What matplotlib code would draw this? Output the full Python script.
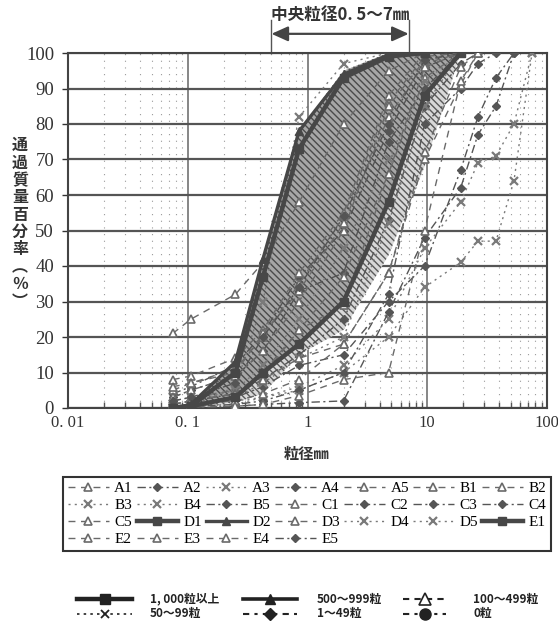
import matplotlib
matplotlib.use('Agg')
import matplotlib.pyplot as plt
from matplotlib.lines import Line2D
from matplotlib.ticker import NullFormatter
import numpy as np

plt.rcParams['font.family'] = ['Liberation Serif', 'Noto Sans CJK JP']
plt.rcParams['hatch.linewidth'] = 1.0

# sieve sizes (mm)
sieves = [0.075, 0.106, 0.25, 0.425, 0.85, 2, 4.75, 9.5, 19, 26.5, 37.5, 53, 75]

# passing percentage of each sample, read per sieve until it reaches 100
A1 = [21, 25, 32, 41, 58, 80, 95, 100]
A2 = [4, 6, 12, 21, 37, 50, 78, 96, 100]
A3 = [0, 0.5, 6, 30, 82, 97, 100]
A4 = [3, 5, 9, 16, 33, 38, 75, 90, 100]
A5 = [8, 9, 14, 22, 38, 55, 88, 100]
B1 = [5, 7, 11, 20, 35, 54, 86, 99, 100]
B2 = [3, 5, 9, 16, 30, 50, 85, 98, 100]
B3 = [0.5, 1, 2, 3, 5, 10, 20, 34, 41, 47, 47, 64, 100]
B4 = [0, 0.5, 1, 3, 6, 12, 25, 45, 58, 69, 71, 80, 100]
B5 = [0, 0, 0.5, 1, 1.5, 2, 27, 48, 62, 77, 85, 100]
C1 = [2, 3, 5, 9, 22, 29, 66, 93, 100]
C2 = [0.5, 1, 3, 6, 12, 15, 30, 40, 67, 82, 93, 100]
C3 = [1, 2, 4, 8, 15, 25, 53, 85, 97, 100]
C4 = [0, 0.5, 1, 2, 5, 10, 32, 80, 90, 97, 100]
C5 = [0.5, 1, 2, 4, 8, 18, 38, 70, 91, 100]
D1 = [0, 0.5, 10, 37, 73, 93, 99, 100]
D2 = [0, 1, 13, 42, 78, 94, 99.5, 100]
D3 = [0, 0.3, 0.5, 1, 3.5, 8, 10, 50, 92, 100]
D4 = [1, 2, 5, 12, 25, 45, 70, 92, 100]
D5 = [0.5, 1, 3, 7, 14, 20, 52, 85, 100]
E1 = [0, 0.5, 3, 10, 18, 30, 58, 88, 100]
E2 = [6, 7, 10, 21, 33, 52, 82, 97, 100]
E3 = [1, 2, 4, 10, 22, 37, 66, 96, 100]
E4 = [1, 2, 4, 8, 14, 18, 38, 72, 96, 100]
E5 = [2, 3, 7, 20, 34, 54, 80, 98, 100]

samples = {'A1': A1, 'A2': A2, 'A3': A3, 'A4': A4, 'A5': A5,
           'B1': B1, 'B2': B2, 'B3': B3, 'B4': B4, 'B5': B5,
           'C1': C1, 'C2': C2, 'C3': C3, 'C4': C4, 'C5': C5,
           'D1': D1, 'D2': D2, 'D3': D3, 'D4': D4, 'D5': D5,
           'E1': E1, 'E2': E2, 'E3': E3, 'E4': E4, 'E5': E5}

# number-of-grains class of each sample
grain_class = {'A1': '100', 'A2': '1', 'A3': '50', 'A4': '1', 'A5': '100',
               'B1': '100', 'B2': '100', 'B3': '50', 'B4': '50', 'B5': '1',
               'C1': '100', 'C2': '1', 'C3': '1', 'C4': '1', 'C5': '100',
               'D1': '1000', 'D2': '500', 'D3': '100', 'D4': '50', 'D5': '50',
               'E1': '1000', 'E2': '100', 'E3': '100', 'E4': '100', 'E5': '1'}

class_keys = ['1000', '500', '100', '50', '1', '0']
class_labels = ['1, 000粒以上', '500～999粒', '100～499粒', '50～99粒', '1～49粒', '0粒']

# shaded range
band_lower = [0, 0, 1.5, 4, 15, 22, 43, 68, 100]
band_upper = [0, 1, 13, 42, 78, 95, 100, 100, 100]
median_range = [0.5, 7]

styles = {
    '1000': dict(color='#474747', lw=3.2, ls='-', marker='s', ms=5.5, zorder=5),
    '500': dict(color='#474747', lw=2.4, ls='-', marker='^', ms=6, zorder=5),
    '100': dict(color='#6a6a6a', lw=1.0, ls=(0, (5, 4)), marker='^', ms=5.5,
                mfc='white', mew=1.2, zorder=4),
    '50': dict(color='#7a7a7a', lw=1.0, ls=(0, (1.5, 3)), marker='x', ms=6,
               mew=1.6, zorder=4),
    '1': dict(color='#555555', lw=1.0, ls=(0, (6, 2.5, 1.5, 2.5)), marker='D',
              ms=4, zorder=4),
    '0': dict(color='#555555', lw=1.0, ls=(0, (6, 2.5, 1.5, 2.5)), marker='o',
              ms=5, zorder=4),
}

fig = plt.figure(figsize=(5.58, 6.24), dpi=100)
W, H = 558, 624
ax = fig.add_axes([68 / W, 1 - 408 / H, (547 - 68) / W, (408 - 53) / H])

n = len(band_lower)
ax.fill_between(sieves[:n], band_lower, band_upper, facecolor='#d8d8d8',
                edgecolor='#5a5a5a', hatch='\\\\\\\\\\', linewidth=0, zorder=2)
ax.fill_between(sieves[:n], E1, band_upper, facecolor='#a6a6a6',
                edgecolor='#4a4a4a', hatch='\\\\\\\\\\', linewidth=0, zorder=2)

lines = {}
for name, vals in samples.items():
    st = styles[grain_class[name]]
    ln, = ax.plot(sieves[:len(vals)], vals, label=name, **st)
    lines[name] = ln

ax.set_xscale('log')
ax.set_xlim(0.01, 100)
ax.set_ylim(0, 100)
ax.set_yticks(range(0, 101, 10))
ax.set_xticks([0.01, 0.1, 1, 10, 100])
ax.set_xticklabels(['0. 01', '0. 1', '1', '10', '100'])
ax.xaxis.set_minor_formatter(NullFormatter())
ax.tick_params(axis='y', labelsize=13.5, length=4, width=1, pad=6,
               colors='#333333')
ax.tick_params(axis='x', which='major', labelsize=12, length=0, pad=5,
               colors='#333333')
ax.tick_params(axis='x', which='minor', direction='in', length=4, width=1,
               color='#555555')
ax.grid(which='major', axis='y', color='#555555', lw=1.6)
ax.grid(which='major', axis='x', color='#666666', lw=1.1)
ax.grid(which='minor', axis='x', color='#9a9a9a', lw=0.8, ls=(0, (1, 5)))
ax.set_axisbelow(True)
for sp in ax.spines.values():
    sp.set_color('#444444')
    sp.set_linewidth(1.5)

# median grain size range arrow
xt = ax.get_xaxis_transform()
ax.annotate('', xy=(median_range[1], 1.054), xytext=(median_range[0], 1.054),
            xycoords=xt, annotation_clip=False,
            arrowprops=dict(arrowstyle='<|-|>,head_length=1.0,head_width=0.45',
                            color='#444444', lw=1.6, shrinkA=0, shrinkB=0))
for xv in median_range:
    ax.plot([xv, xv], [1.0, 1.093], transform=xt, clip_on=False,
            color='#555555', lw=1)
ax.text(np.sqrt(median_range[0] * median_range[1]), 1.107,
        '中央粒径0. 5～7㎜', transform=xt, ha='center', va='center',
        fontsize=12, fontweight='bold', color='#333333',
        family=['Noto Sans CJK JP'])

# axis titles
ylab = ['通', '過', '質', '量', '百', '分', '率', '︵', '％', '︶']
for i, ch in enumerate(ylab):
    fig.text(20 / W, 1 - (145 + i * 17.4) / H, ch, ha='center', va='center',
             fontsize=11.5, fontweight='bold', color='#333333',
             family=['Noto Sans CJK JP'])
fig.text(307 / W, 1 - 454 / H, '粒径㎜', ha='center', va='center',
         fontsize=11, fontweight='bold', color='#333333',
         family=['Noto Sans CJK JP'])

# sample legend, row-major order like the original
names = list(samples.keys())
order = [r * 7 + c for c in range(7) for r in range(4) if r * 7 + c < len(names)]
leg = fig.legend([lines[names[i]] for i in order], [names[i] for i in order],
                 ncol=7, loc='upper left', bbox_to_anchor=(63 / W, 1 - 477 / H),
                 fontsize=11, handlelength=2.7, handletextpad=0.35,
                 columnspacing=0.25, labelspacing=0.22, borderpad=0.3,
                 borderaxespad=0, fancybox=False, framealpha=1,
                 edgecolor='#333333', numpoints=1)
leg.get_frame().set_linewidth(1.5)

# grain-count class legend
cls_style = {
    '1000': dict(color='#222222', lw=3.2, ls='-', marker='s', ms=7),
    '500': dict(color='#222222', lw=2.6, ls='-', marker='^', ms=7),
    '100': dict(color='#222222', lw=1.5, ls=(0, (3, 2.5)), marker='^', ms=8,
                mfc='white', mew=1.2),
    '50': dict(color='#222222', lw=1.2, ls=(0, (1.5, 2.5)), marker='x', ms=6,
               mew=1.3),
    '1': dict(color='#222222', lw=1.5, ls=(0, (3, 2.5, 1.5, 2.5)), marker='D',
              ms=6),
    '0': dict(color='#222222', lw=1.5, ls=(0, (3, 2.5, 1.5, 2.5)), marker='o',
              ms=8),
}
handle_x = [(77, 132), (243, 297), (403, 446)]
text_x = [150, 317, 473]
row_y = [599, 614]
for k, (key, lab) in enumerate(zip(class_keys, class_labels)):
    r, c = divmod(k, 3)
    x0, x1 = handle_x[c]
    y = 1 - row_y[r] / H
    st = dict(cls_style[key])
    mk = dict(marker=st.pop('marker'), ms=st.pop('ms'),
              mfc=st.pop('mfc', st['color']), mew=st.pop('mew', 1),
              mec=st['color'])
    fig.add_artist(Line2D([x0 / W, x1 / W], [y, y], transform=fig.transFigure,
                          **st))
    fig.add_artist(Line2D([(x0 + x1) / 2 / W], [y], transform=fig.transFigure,
                          ls='none', **mk))
    fig.text(text_x[c] / W, y, lab, ha='left', va='center', fontsize=8.5,
             fontweight='bold', color='#222222', family=['Noto Sans CJK JP'])

fig.savefig('out.png', dpi=100)
